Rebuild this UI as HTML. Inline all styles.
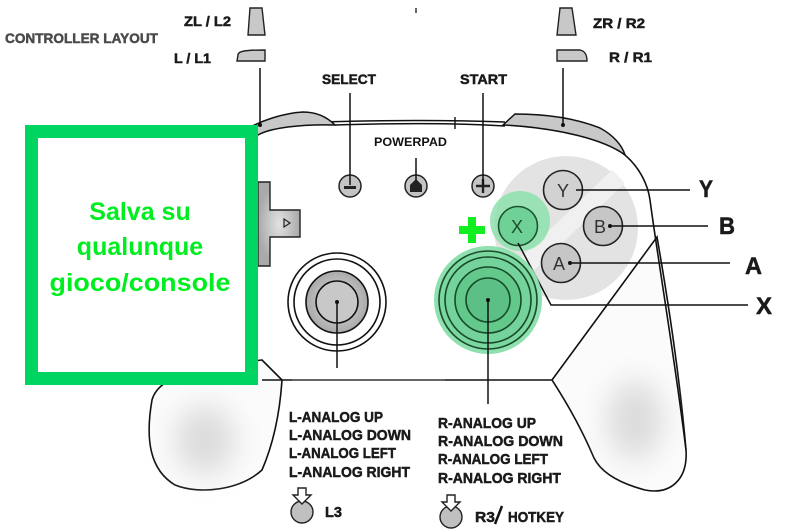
<!DOCTYPE html>
<html><head><meta charset="utf-8"><style>
html,body{margin:0;padding:0;background:#fff;}
svg{display:block;}
.c{font-family:"Liberation Sans",sans-serif;font-weight:bold;fill:#1a1a1a;stroke:#1a1a1a;stroke-width:0.5;}
</style></head><body>
<svg width="800" height="532" viewBox="0 0 800 532" xmlns="http://www.w3.org/2000/svg">
<defs>
<radialGradient id="gg" cx="50%" cy="50%" r="50%"><stop offset="0" stop-color="#e2e2e2"/><stop offset="1" stop-color="#a9a9a9"/></radialGradient>
<filter id="bl" x="-50%" y="-50%" width="200%" height="200%"><feGaussianBlur stdDeviation="14"/></filter>
</defs>
<rect width="800" height="532" fill="#fff"/>

<!-- grips -->
<path d="M282,380 L262,360 C220,365 160,370 152,400 C145,440 150,470 175,485 C200,495 240,490 262,470 C275,440 280,410 282,380 Z" fill="#fbfbfb" stroke="#111" stroke-width="1.6"/>
<path d="M552,380 L657,237 C668,300 680,380 686,450 C688,480 670,495 645,490 C615,482 600,470 594,458 C580,425 565,400 552,380 Z" fill="#fbfbfb" stroke="#111" stroke-width="1.6"/>
<ellipse cx="205" cy="440" rx="30" ry="35" fill="#dcdcdc" filter="url(#bl)"/>
<ellipse cx="635" cy="420" rx="28" ry="40" fill="#dcdcdc" filter="url(#bl)"/>
<!-- right body outline -->
<path d="M625,155 C640,168 648,185 650,200 C658,260 675,360 686,450" fill="none" stroke="#111" stroke-width="1.6"/>
<path d="M262,380 L292,380 M445,380 L552,380" stroke="#111" stroke-width="1.6"/>
<path d="M292,380 L445,380" stroke="#333" stroke-width="1.4"/>

<!-- top edge -->
<path d="M258,125 C320,121 420,119 505,122" fill="none" stroke="#111" stroke-width="1.5"/>
<path d="M335,125 C400,123 460,123 505,126" fill="none" stroke="#111" stroke-width="1.5"/>
<path d="M455,117 L455,129" stroke="#111" stroke-width="1.4"/>
<path d="M240,133 C260,120 285,113 303,112 C318,112 328,118 335,125 C300,124 270,128 258,135 Z" fill="#c8c8c8" stroke="#111" stroke-width="1.5"/>
<path d="M503,125 L515,114 C545,114 575,118 600,128 C613,135 622,145 625,155 C605,140 560,128 503,125 Z" fill="#c8c8c8" stroke="#111" stroke-width="1.5"/>

<!-- d-pad -->
<path d="M258,182 L270,182 L270,210 L300,210 L300,237 L270,237 L270,266 L258,266 Z" fill="url(#gg)" stroke="#222" stroke-width="1.4"/>
<path d="M284,219 L290,223 L284,227 Z" fill="none" stroke="#222" stroke-width="1.2"/>

<!-- face button area -->
<circle cx="566" cy="228" r="72" fill="#e3e3e3"/>
<path d="M510,268 L612,170 L625,183 L523,281 Z" fill="#f0f0f0"/>
<circle cx="563" cy="190" r="19.5" fill="#d2d2d2" stroke="#222" stroke-width="1.6"/>
<circle cx="603" cy="226" r="19.5" fill="#c6c6c6" stroke="#222" stroke-width="1.6"/>
<circle cx="561" cy="263" r="19.5" fill="#c6c6c6" stroke="#222" stroke-width="1.6"/>
<circle cx="520" cy="221" r="30" fill="#8ee0ae" opacity="0.85"/>
<circle cx="518" cy="226" r="19.5" fill="#6fd196" stroke="#1b5530" stroke-width="1.6"/>
<text x="563" y="197" font-family="Liberation Sans,sans-serif" font-size="18" text-anchor="middle" fill="#333">Y</text>
<text x="600" y="233" font-family="Liberation Sans,sans-serif" font-size="18" text-anchor="middle" fill="#333">B</text>
<text x="559" y="270" font-family="Liberation Sans,sans-serif" font-size="18" text-anchor="middle" fill="#333">A</text>
<text x="517" y="233" font-family="Liberation Sans,sans-serif" font-size="18" text-anchor="middle" fill="#1b4d2c">X</text>
<path d="M468,217 h8 v9 h9 v8 h-9 v9 h-8 v-9 h-9 v-8 h9 Z" fill="#11ee22"/>

<path d="M576,190 L690,190" stroke="#111" stroke-width="1.5"/>
<circle cx="610" cy="226" r="2" fill="#111"/><path d="M610,226 L708,226" stroke="#111" stroke-width="1.5"/>
<circle cx="570" cy="263" r="2" fill="#111"/><path d="M570,263 L730,263" stroke="#111" stroke-width="1.5"/>
<path d="M518,243 L551,305 L748,305" fill="none" stroke="#111" stroke-width="1.5"/>
<g class="c" font-size="24" lengthAdjust="spacingAndGlyphs">
<text x="699" y="197" textLength="14" lengthAdjust="spacingAndGlyphs">Y</text>
<text x="719" y="234" textLength="16" lengthAdjust="spacingAndGlyphs">B</text>
<text x="745" y="274" textLength="17" lengthAdjust="spacingAndGlyphs">A</text>
<text x="756" y="314" textLength="16" lengthAdjust="spacingAndGlyphs">X</text>
</g>

<!-- small buttons -->
<circle cx="350" cy="186" r="11" fill="#c4c4c4" stroke="#222" stroke-width="1.5"/>
<rect x="344" y="186" width="12" height="3" fill="#222"/>
<circle cx="416" cy="186" r="11" fill="#c4c4c4" stroke="#222" stroke-width="1.5"/>
<path d="M410,192 L410,185 L416,179 L422,185 L422,192 Z" fill="#222"/>
<circle cx="483" cy="186" r="11" fill="#c4c4c4" stroke="#222" stroke-width="1.5"/>
<path d="M476,186 H490 M483,179 V193" stroke="#222" stroke-width="2.4"/>
<path d="M350,93 V185 M416,158 V180 M483,93 V185" stroke="#111" stroke-width="1.5"/>
<path d="M416,8 V13" stroke="#333" stroke-width="1.5"/>
<text class="c" x="322" y="84" font-size="14" textLength="54" lengthAdjust="spacingAndGlyphs">SELECT</text>
<text class="c" x="460" y="84" font-size="14" textLength="47" lengthAdjust="spacingAndGlyphs">START</text>
<text x="374" y="146" font-family="Liberation Sans,sans-serif" font-weight="bold" font-size="12" textLength="73" lengthAdjust="spacingAndGlyphs" fill="#111">POWERPAD</text>

<!-- triggers -->
<path d="M250,8 L262,8 L265,35 L248,35 Z" fill="#c8c8c8" stroke="#222" stroke-width="1.4"/>
<path d="M238,55 C238,51 245,50 265,50 L265,61 L237,61 Z" fill="#c8c8c8" stroke="#222" stroke-width="1.4"/>
<path d="M560,8 L572,8 L576,35 L557,35 Z" fill="#c8c8c8" stroke="#222" stroke-width="1.4"/>
<path d="M557,50 L580,50 C585,51 587,55 587,61 L557,61 Z" fill="#c8c8c8" stroke="#222" stroke-width="1.4"/>
<path d="M260,68 V125 M563,68 V125" stroke="#111" stroke-width="1.5"/>
<circle cx="260" cy="125" r="2" fill="#111"/><circle cx="563" cy="125" r="2" fill="#111"/>
<text class="c" x="184" y="26" font-size="14" textLength="47" lengthAdjust="spacingAndGlyphs">ZL / L2</text>
<text class="c" x="174" y="63" font-size="14" textLength="37" lengthAdjust="spacingAndGlyphs">L / L1</text>
<text class="c" x="593" y="28" font-size="14" textLength="52" lengthAdjust="spacingAndGlyphs">ZR / R2</text>
<text class="c" x="609" y="62" font-size="14" textLength="43" lengthAdjust="spacingAndGlyphs">R / R1</text>
<text class="c" x="5" y="43" font-size="14" textLength="153" lengthAdjust="spacingAndGlyphs" style="fill:#4a4a4a;stroke:#4a4a4a">CONTROLLER LAYOUT</text>

<!-- left stick -->
<circle cx="337" cy="302" r="49" fill="#fff" stroke="#111" stroke-width="1.6"/>
<circle cx="337" cy="302" r="43" fill="#fff" stroke="#111" stroke-width="1.6"/>
<circle cx="337" cy="302" r="31" fill="url(#gg)" stroke="#111" stroke-width="1.6"/>
<circle cx="337" cy="302" r="21" fill="#c8c8c8" stroke="#111" stroke-width="1.6"/>
<circle cx="337" cy="302" r="2" fill="#111"/>
<path d="M337,302 V368" stroke="#111" stroke-width="1.5"/>

<!-- right stick -->
<circle cx="488" cy="300" r="54" fill="#8ee0ae"/>
<circle cx="488" cy="300" r="49" fill="#7ad7a0" stroke="#184a2a" stroke-width="1.6"/>
<circle cx="488" cy="300" r="43" fill="#74d39a" stroke="#184a2a" stroke-width="1.6"/>
<circle cx="488" cy="300" r="33" fill="#63c98b" stroke="#184a2a" stroke-width="1.6"/>
<circle cx="488" cy="300" r="22" fill="#5cbf84" stroke="#184a2a" stroke-width="1.6"/>
<circle cx="488" cy="300" r="2" fill="#111"/>
<path d="M488,300 V404" stroke="#111" stroke-width="1.5"/>

<!-- analog labels -->
<g class="c" font-size="15">
<text x="289" y="422" textLength="94" lengthAdjust="spacingAndGlyphs">L-ANALOG UP</text>
<text x="289" y="440" textLength="122" lengthAdjust="spacingAndGlyphs">L-ANALOG DOWN</text>
<text x="289" y="458" textLength="107" lengthAdjust="spacingAndGlyphs">L-ANALOG LEFT</text>
<text x="289" y="477" textLength="121" lengthAdjust="spacingAndGlyphs">L-ANALOG RIGHT</text>
<text x="438" y="428" textLength="98" lengthAdjust="spacingAndGlyphs">R-ANALOG UP</text>
<text x="438" y="446" textLength="125" lengthAdjust="spacingAndGlyphs">R-ANALOG DOWN</text>
<text x="438" y="464" textLength="110" lengthAdjust="spacingAndGlyphs">R-ANALOG LEFT</text>
<text x="438" y="483" textLength="123" lengthAdjust="spacingAndGlyphs">R-ANALOG RIGHT</text>
<text x="325" y="517" textLength="17" lengthAdjust="spacingAndGlyphs">L3</text>
<text x="475" y="522" textLength="20" lengthAdjust="spacingAndGlyphs">R3</text>
<text x="508" y="522" textLength="56" lengthAdjust="spacingAndGlyphs">HOTKEY</text>
</g>
<path d="M495,524 L502,506" stroke="#111" stroke-width="2.5"/>
<circle cx="302" cy="512" r="11" fill="#c0c0c0" stroke="#222" stroke-width="1.4"/>
<path d="M298,488 h8 v7 h5 l-9,9 l-9,-9 h5 Z" fill="#fff" stroke="#222" stroke-width="1.4"/>
<circle cx="451" cy="517" r="11" fill="#c0c0c0" stroke="#222" stroke-width="1.4"/>
<path d="M447,495 h8 v7 h5 l-9,9 l-9,-9 h5 Z" fill="#fff" stroke="#222" stroke-width="1.4"/>

<!-- green box -->
<rect x="31.5" y="131.5" width="220" height="247" fill="#fff" stroke="#00d461" stroke-width="13"/>
<g font-family="Liberation Sans,sans-serif" font-weight="bold" font-size="25" fill="#00ee1f" text-anchor="middle">
<text x="140" y="220">Salva su</text>
<text x="140" y="255">qualunque</text>
<text x="140" y="291" textLength="181" lengthAdjust="spacingAndGlyphs">gioco/console</text>
</g>
</svg>
</body></html>
